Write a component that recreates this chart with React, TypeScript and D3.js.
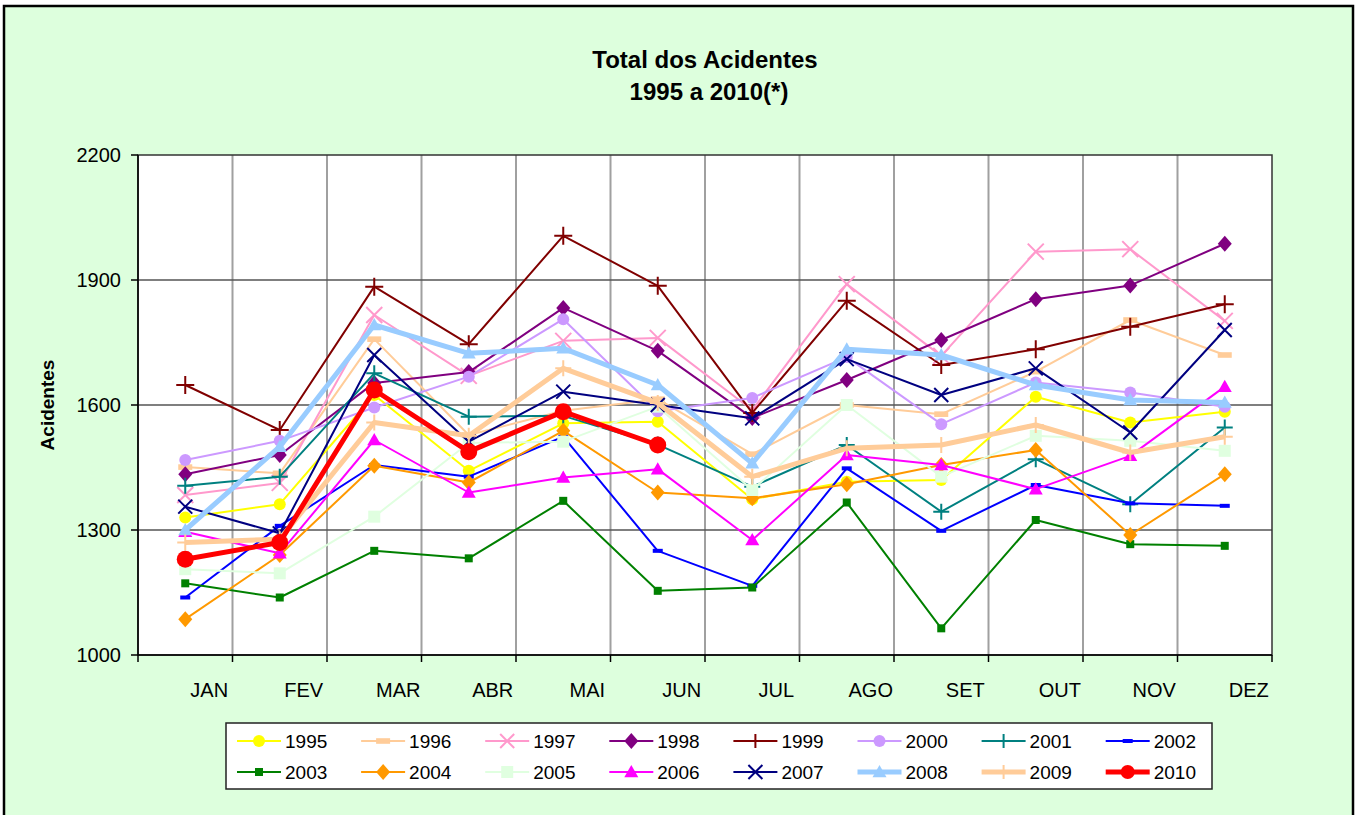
import React from "react";
import * as d3 from "d3";

const months = ["JAN", "FEV", "MAR", "ABR", "MAI", "JUN", "JUL", "AGO", "SET", "OUT", "NOV", "DEZ"];
const yTicks = [1000, 1300, 1600, 1900, 2200];

const years = ["1995", "1996", "1997", "1998", "1999", "2000", "2001", "2002", "2003", "2004", "2005", "2006", "2007", "2008", "2009", "2010"];

const v1995 = [1330, 1362, 1624, 1442, 1556, 1560, 1374, 1416, 1420, 1620, 1558, 1584];
const v1996 = [1451, 1436, 1758, 1528, 1586, 1614, 1482, 1600, 1578, 1680, 1804, 1720];
const v1997 = [1384, 1413, 1816, 1670, 1754, 1761, 1588, 1890, 1718, 1968, 1974, 1802];
const v1998 = [1434, 1480, 1653, 1679, 1833, 1730, 1569, 1660, 1756, 1854, 1887, 1987];
const v1999 = [1648, 1540, 1884, 1746, 2006, 1886, 1581, 1850, 1696, 1734, 1788, 1842];
const v2000 = [1468, 1514, 1594, 1668, 1806, 1585, 1617, 1715, 1554, 1654, 1630, 1596];
const v2001 = [1406, 1428, 1676, 1572, 1574, 1505, 1404, 1504, 1344, 1470, 1362, 1546];
const v2002 = [1138, 1310, 1456, 1428, 1524, 1250, 1166, 1448, 1298, 1408, 1364, 1358];
const v2003 = [1172, 1138, 1250, 1232, 1370, 1154, 1162, 1366, 1064, 1324, 1266, 1262];
const v2004 = [1086, 1240, 1454, 1414, 1538, 1390, 1376, 1410, 1456, 1492, 1288, 1434];
const v2005 = [1206, 1196, 1332, 1509, 1512, 1596, 1396, 1600, 1428, 1526, 1514, 1490];
const v2006 = [1296, 1244, 1516, 1390, 1426, 1446, 1276, 1480, 1456, 1398, 1478, 1644];
const v2007 = [1356, 1292, 1720, 1512, 1632, 1600, 1568, 1710, 1624, 1688, 1534, 1780];
const v2008 = [1300, 1500, 1792, 1724, 1736, 1648, 1460, 1734, 1720, 1648, 1612, 1606];
const v2009 = [1270, 1278, 1558, 1526, 1688, 1605, 1428, 1496, 1504, 1552, 1486, 1524];
const v2010 = [1230, 1270, 1636, 1488, 1584, 1504];

const values = [v1995, v1996, v1997, v1998, v1999, v2000, v2001, v2002, v2003, v2004, v2005, v2006, v2007, v2008, v2009, v2010];
const colors = ["#FFFF00", "#FFCC99", "#FF99CC", "#800080", "#800000", "#CC99FF", "#008080", "#0000FF", "#008000", "#FF9900", "#E0FFE0", "#FF00FF", "#000080", "#99CCFF", "#FFCC99", "#FF0000"];
const markers = ["circle", "dash", "x", "diamond", "plus", "circle", "plus", "dash", "square", "diamond", "square", "triangle", "x", "triangle", "plus", "circle"];
const widths = [2, 2, 2, 2, 2, 2, 2, 2, 2, 2, 2, 2, 2, 5, 5, 5];
const msizes = [6, 7, 8, 7, 9, 6, 8, 5, 4, 7, 6, 7, 7, 7, 8, 8.5];

const FONT = "'Liberation Sans', Arial, Helvetica, sans-serif";

function Marker({ type, x, y, s, color }: { type: string; x: number; y: number; s: number; color: string }) {
  switch (type) {
    case "circle":
      return <circle cx={x} cy={y} r={s} fill={color} />;
    case "square":
      return <rect x={x - s} y={y - s} width={2 * s} height={2 * s} fill={color} />;
    case "diamond":
      return <path d={`M${x},${y - s - 1}L${x + s},${y}L${x},${y + s + 1}L${x - s},${y}Z`} fill={color} />;
    case "triangle":
      return <path d={`M${x},${y - s}L${x + s},${y + s * 0.75}L${x - s},${y + s * 0.75}Z`} fill={color} />;
    case "dash":
      return <rect x={x - s} y={y - s * 0.4} width={2 * s} height={s * 0.8} fill={color} />;
    case "plus":
      return <path d={`M${x - s},${y}H${x + s}M${x},${y - s}V${y + s}`} stroke={color} strokeWidth={2} fill="none" />;
    case "x":
      return <path d={`M${x - s},${y - s}L${x + s},${y + s}M${x - s},${y + s}L${x + s},${y - s}`} stroke={color} strokeWidth={2} fill="none" />;
  }
  return null;
}

export default function App() {
  const W = 1359, H = 815;
  const left = 138, right = 1272, top = 155, bottom = 655;
  const x = d3.scaleBand<string>().domain(months).range([left, right]).padding(0);
  const y = d3.scaleLinear().domain([1000, 2200]).range([bottom, top]);
  const bw = x.bandwidth();
  const cx = (i: number) => (x(months[i]) as number) + bw / 2;
  const line = d3.line<number>().x((_, i) => cx(i)).y((d) => y(d));

  const boundaries = d3.range(months.length + 1).map((i) => left + i * bw);

  const legX0 = 237, legStep = 124.1;
  const legRows = [741, 772];

  return (
    <svg width={W} height={H} style={{ position: "absolute", left: 0, top: 0 }} fontFamily={FONT}>
      <rect x={0} y={0} width={W} height={H} fill="#ffffff" />
      <rect x={4} y={6} width={1349} height={830} fill="#DDFFDD" stroke="#000" strokeWidth={2.5} />
      <text x={705} y={68} textAnchor="middle" fontSize={24} fontWeight="bold">Total dos Acidentes</text>
      <text x={709} y={100} textAnchor="middle" fontSize={24} fontWeight="bold">1995 a 2010(*)</text>

      <rect x={left} y={top} width={right - left} height={bottom - top} fill="#ffffff" />
      {boundaries.slice(1, -1).map((bx, i) => (
        <line key={"vg" + i} x1={bx} x2={bx} y1={top} y2={bottom} stroke="#A0A0A0" strokeWidth={2} />
      ))}
      {yTicks.slice(1, -1).map((t) => (
        <line key={"hg" + t} x1={left} x2={right} y1={y(t)} y2={y(t)} stroke="#555" strokeWidth={1.5} />
      ))}
      <rect x={left} y={top} width={right - left} height={bottom - top} fill="none" stroke="#333" strokeWidth={1.5} />
      <line x1={left} x2={left} y1={top} y2={bottom} stroke="#000" strokeWidth={1.5} />
      <line x1={left} x2={right} y1={bottom} y2={bottom} stroke="#000" strokeWidth={1.5} />
      {yTicks.map((t) => (
        <g key={"yt" + t}>
          <line x1={left - 7} x2={left} y1={y(t)} y2={y(t)} stroke="#000" strokeWidth={1.5} />
          <text x={121} y={y(t) + 7} textAnchor="end" fontSize={20}>{t}</text>
        </g>
      ))}
      {boundaries.map((bx, i) => (
        <line key={"xt" + i} x1={bx} x2={bx} y1={bottom} y2={bottom + 7} stroke="#000" strokeWidth={1.5} />
      ))}
      {months.map((m, i) => (
        <text key={m} x={cx(i) + 24} y={697} textAnchor="middle" fontSize={20}>{m}</text>
      ))}
      <text transform="translate(54,405) rotate(-90)" textAnchor="middle" fontSize={19} fontWeight="bold">Acidentes</text>

      {values.map((vals, si) => (
        <g key={"s" + si}>
          <path d={line(vals) || ""} fill="none" stroke={colors[si]} strokeWidth={widths[si]} strokeLinejoin="round" />
          {vals.map((v, i) => (
            <Marker key={i} type={markers[si]} x={cx(i)} y={y(v)} s={msizes[si]} color={colors[si]} />
          ))}
        </g>
      ))}

      <rect x={226} y={723} width={986} height={66} fill="#ffffff" stroke="#222" strokeWidth={1.5} />
      {years.map((yr, si) => {
        const col = si % 8, row = Math.floor(si / 8);
        const lx = legX0 + col * legStep;
        const ly = legRows[row];
        return (
          <g key={"lg" + yr}>
            <line x1={lx} x2={lx + 44} y1={ly} y2={ly} stroke={colors[si]} strokeWidth={widths[si]} />
            <Marker type={markers[si]} x={lx + 22} y={ly} s={Math.min(msizes[si], 7)} color={colors[si]} />
            <text x={lx + 48} y={ly + 7} fontSize={19}>{yr}</text>
          </g>
        );
      })}
    </svg>
  );
}
